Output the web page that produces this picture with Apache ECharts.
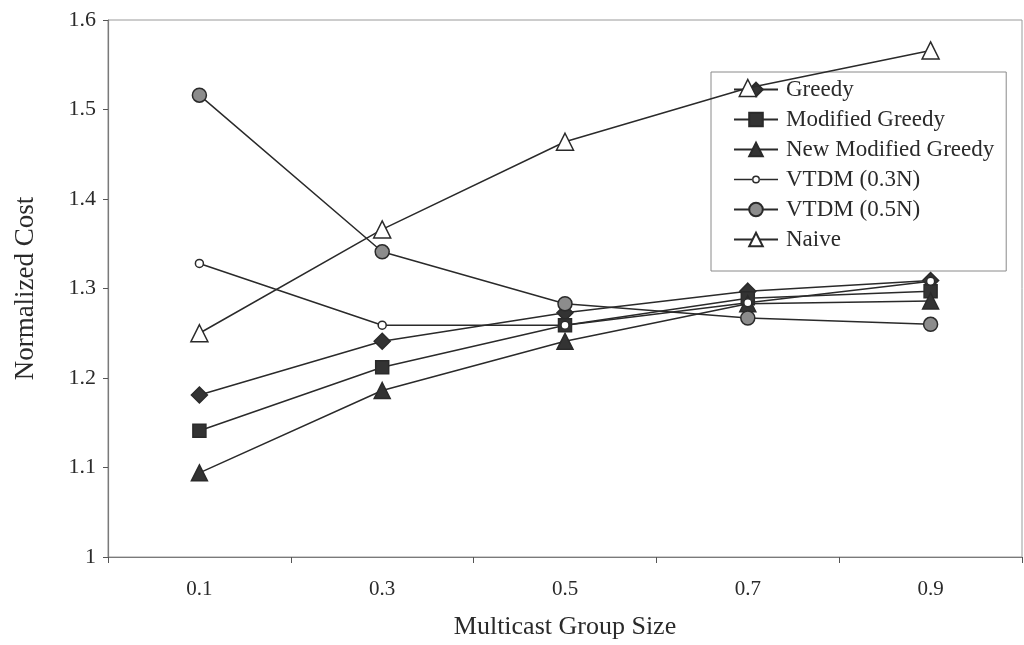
<!DOCTYPE html>
<html>
<head>
<meta charset="utf-8">
<script src="https://cdn.jsdelivr.net/npm/echarts@6/dist/echarts.min.js"></script>
<style>
  html, body { margin: 0; padding: 0; background: #fff; }
  #chart { width: 1024px; height: 645px; }
</style>
</head>
<body>
<div id="chart"></div>
<script>
// Multicast group size (fraction of nodes)
const groupSizes = ['0.1', '0.3', '0.5', '0.7', '0.9'];

// Normalized cost per algorithm
const greedy         = [1.181, 1.241, 1.273, 1.297, 1.309];
const modifiedGreedy = [1.141, 1.212, 1.259, 1.289, 1.297];
const newModified    = [1.094, 1.186, 1.241, 1.283, 1.286];
const vtdm03         = [1.328, 1.259, 1.259, 1.284, 1.308];
const vtdm05         = [1.516, 1.341, 1.283, 1.267, 1.260];
const naive          = [1.250, 1.366, 1.464, 1.524, 1.566];

const yTicks = [1, 1.1, 1.2, 1.3, 1.4, 1.5, 1.6];

const FONT = '"Liberation Serif", "DejaVu Serif", serif';
const INK = '#2a2a2a';

// Legend key for the small hollow-circle series: line with a small ring
const smallRingIcon = 'path://M0 0M44 17' +
  'M0 7.7L18.2 7.7L18.2 9.3L0 9.3Z' +
  'M25.8 7.7L44 7.7L44 9.3L25.8 9.3Z' +
  'M18 8.5A4 4 0 1 0 26 8.5A4 4 0 1 0 18 8.5Z' +
  'M19.5 8.5A2.5 2.5 0 1 1 24.5 8.5A2.5 2.5 0 1 1 19.5 8.5Z';

function line(name, data, symbol, size, fill) {
  return {
    name, type: 'line', data,
    symbol, symbolSize: size,
    lineStyle: { color: INK, width: 1.5 },
    itemStyle: { color: fill, borderColor: INK, borderWidth: 1.5 },
    emphasis: { disabled: true },
    animation: false
  };
}

const chart = echarts.init(document.getElementById('chart'));
chart.setOption({
  backgroundColor: '#fff',
  textStyle: { fontFamily: FONT },
  grid: {
    left: 108, right: 2, top: 20, bottom: 85,
    show: true, borderColor: '#9a9a9a', borderWidth: 1
  },
  legend: {
    z: 1,
    orient: 'vertical',
    left: 711, top: 72,
    padding: [6, 12, 20, 22],
    itemGap: 7,
    itemWidth: 44, itemHeight: 17,
    backgroundColor: '#fff',
    borderColor: '#8a8a8a', borderWidth: 1,
    textStyle: { fontFamily: FONT, fontSize: 23, lineHeight: 22, color: INK, padding: [0, 0, 0, 3] },
    data: [
      'Greedy', 'Modified Greedy', 'New Modified Greedy',
      { name: 'VTDM (0.3N)', icon: smallRingIcon, itemStyle: { color: INK, borderWidth: 0 } },
      'VTDM (0.5N)', 'Naive'
    ]
  },
  xAxis: {
    type: 'category',
    data: groupSizes,
    boundaryGap: true,
    name: 'Multicast Group Size',
    nameLocation: 'middle',
    nameGap: 57,
    nameTextStyle: { fontFamily: FONT, fontSize: 26, color: INK },
    axisLine: { lineStyle: { color: '#7a7a7a', width: 1.2 } },
    axisTick: { show: true, alignWithLabel: false, length: 6, lineStyle: { color: '#555' } },
    axisLabel: { fontFamily: FONT, fontSize: 21, color: INK, margin: 22 },
    splitLine: { show: false }
  },
  yAxis: {
    type: 'value',
    min: 1, max: 1.6, interval: 0.1,
    name: 'Normalized Cost',
    nameLocation: 'middle',
    nameGap: 69,
    nameTextStyle: { fontFamily: FONT, fontSize: 27, color: INK },
    axisLine: { show: true, lineStyle: { color: '#7a7a7a', width: 1.2 } },
    axisTick: { show: true, length: 5, lineStyle: { color: '#555' } },
    axisLabel: {
      fontFamily: FONT, fontSize: 22, color: INK, margin: 12,
      formatter: v => {
        const t = yTicks.find(k => Math.abs(k - v) < 1e-6);
        return t === undefined ? '' : String(t);
      }
    },
    splitLine: { show: false }
  },
  series: [
    line('Greedy', greedy, 'diamond', 16, '#333'),
    line('Modified Greedy', modifiedGreedy, 'rect', 13, '#333'),
    line('New Modified Greedy', newModified, 'triangle', 16, '#333'),
    line('VTDM (0.3N)', vtdm03, 'circle', 8, '#fff'),
    line('VTDM (0.5N)', vtdm05, 'circle', 14, '#8c8c8c'),
    line('Naive', naive, 'triangle', 17, '#fff')
  ]
});
</script>
</body>
</html>
